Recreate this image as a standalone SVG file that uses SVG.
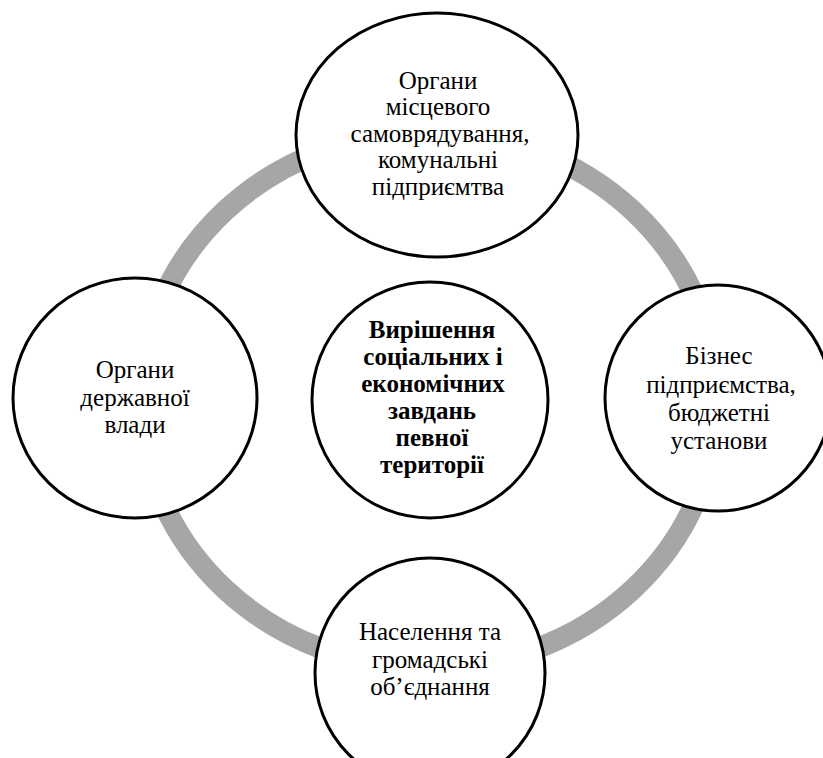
<svg xmlns="http://www.w3.org/2000/svg" width="823" height="758" viewBox="0 0 823 758">
<style>
.node{fill:#ffffff;stroke:#000000;stroke-width:3}
.ring{fill:none;stroke:#a6a6a6;stroke-width:21}
text{font-family:'Liberation Serif','Times New Roman',Times,serif;font-size:25px;fill:#000000;text-anchor:middle}
.b{font-weight:bold}
</style>
<rect width="823" height="758" fill="#ffffff"/>
<g id="connectors">
<ellipse class="ring" cx="429" cy="400" rx="288" ry="268"/>
</g>
<g id="node-top">
<ellipse class="node" cx="437" cy="135" rx="141" ry="122"/>
<text font-family="Liberation Serif, serif"><tspan x="438" y="89">Органи</tspan><tspan x="438" y="115">місцевого</tspan><tspan x="440" y="142">самоврядування,</tspan><tspan x="438" y="168">комунальні</tspan><tspan x="438" y="195">підприємтва</tspan></text>
</g>
<g id="node-left">
<ellipse class="node" cx="135" cy="398" rx="122" ry="120"/>
<text font-family="Liberation Serif, serif"><tspan x="135" y="378">Органи</tspan><tspan x="135" y="406">державної</tspan><tspan x="135" y="433">влади</tspan></text>
</g>
<g id="node-right">
<circle class="node" cx="718" cy="398" r="113"/>
<text font-family="Liberation Serif, serif"><tspan x="719" y="364">Бізнес</tspan><tspan x="721" y="393">підприємства,</tspan><tspan x="719" y="421">бюджетні</tspan><tspan x="719" y="449">установи</tspan></text>
</g>
<g id="node-bottom">
<circle class="node" cx="430" cy="673" r="115"/>
<text font-family="Liberation Serif, serif"><tspan x="430" y="640">Населення та</tspan><tspan x="430" y="668">громадські</tspan><tspan x="430" y="695">об’єднання</tspan></text>
</g>
<g id="node-center">
<circle class="node" cx="430" cy="400" r="118"/>
<text class="b" font-family="Liberation Serif, serif"><tspan x="432" y="338">Вирішення</tspan><tspan x="433" y="365">соціальних і</tspan><tspan x="433" y="392">економічних</tspan><tspan x="432" y="419">завдань</tspan><tspan x="432" y="446">певної</tspan><tspan x="432" y="473">території</tspan></text>
</g>
</svg>
